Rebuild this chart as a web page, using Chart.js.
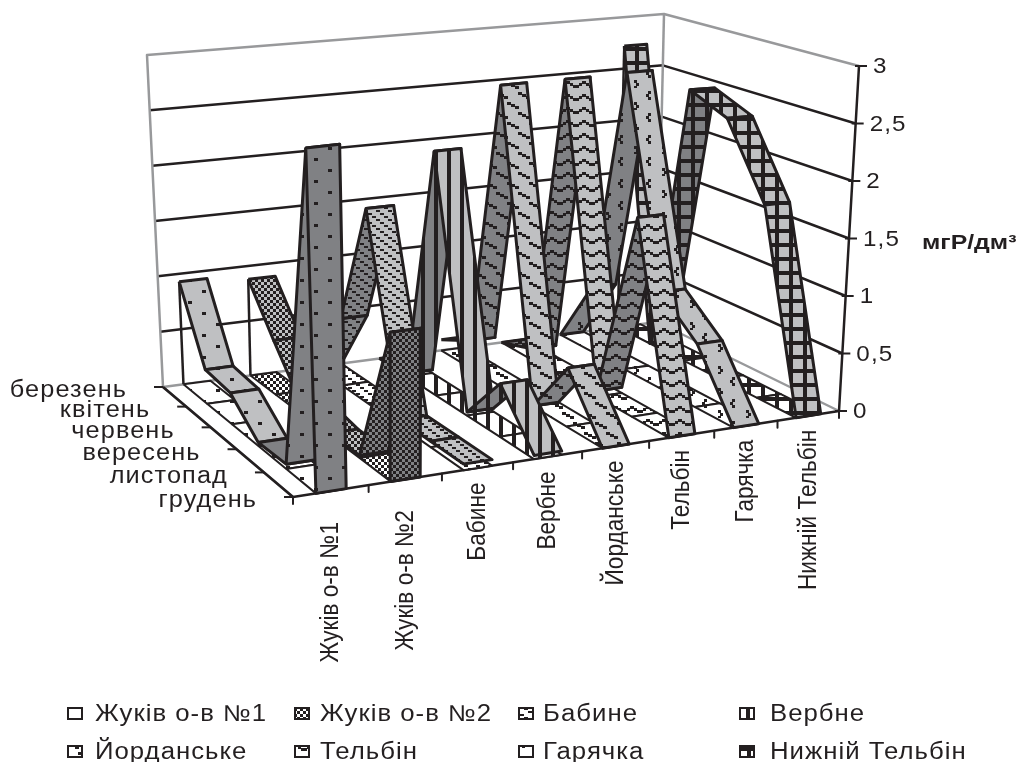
<!DOCTYPE html>
<html>
<head>
<meta charset="utf-8">
<title>Chart</title>
<script src="https://cdn.jsdelivr.net/npm/chart.js@4"></script>
<style>
  html, body { margin: 0; padding: 0; background: #fff; }
  canvas { display: block; }
</style>
</head>
<body>
<canvas id="chart" width="1023" height="762"></canvas>
<script>
// data
const months = ['березень', 'квітень', 'червень', 'вересень', 'листопад', 'грудень'];
const stations = ['Жуків о-в №1', 'Жуків о-в №2', 'Бабине', 'Вербне', 'Йорданське', 'Тельбін', 'Гарячка', 'Нижній Тельбін'];
const zhukiv1 = [0.93, 0.30, 0.27, 0.03, 0.04, 2.80];
const zhukiv2 = [0.88, 0.48, 0.08, 0.02, 0.02, 1.22];
const babyne = [0.00, 0.60, 1.72, 0.05, 0.05, 0.05];
const verbne = [0.00, 0.03, 2.16, 0.03, 0.45, 0.03];
const yordanske = [0.10, 0.25, 2.69, 0.00, 0.50, 0.00];
const telbin = [0.00, 0.10, 2.69, 0.05, 1.72, 0.00];
const hariachka = [0.00, 0.60, 2.70, 0.85, 0.55, 0.00];
const nyzhniiTelbin = [2.72, 0.00, 2.50, 2.35, 1.70, 0.00];
const valueTicks = ['0', '0,5', '1', '1,5', '2', '2,5', '3'];
const series = [zhukiv1, zhukiv2, babyne, verbne, yordanske, telbin, hariachka, nyzhniiTelbin];

// box corners of the 3d plot, in page pixels
const floorQuad = [[163, 387], [657, 322], [839, 411], [293, 497]];
const topQuad = [[147, 55], [664, 14], [859, 66], [279, 126]];
const maxValue = 3;
const ribbonFrom = 0.3, ribbonTo = 0.7;
const ink = '#231f20';
const LIGHT = '#bfc0c2', DARK = '#808184';

function quadMap(q) {
  const [p0, p1, p2, p3] = q;
  const dx1 = p1[0] - p2[0], dx2 = p3[0] - p2[0], sx = p0[0] - p1[0] + p2[0] - p3[0];
  const dy1 = p1[1] - p2[1], dy2 = p3[1] - p2[1], sy = p0[1] - p1[1] + p2[1] - p3[1];
  const d = dx1 * dy2 - dx2 * dy1;
  const g = (sx * dy2 - dx2 * sy) / d, h = (dx1 * sy - sx * dy1) / d;
  const a = p1[0] - p0[0] + g * p1[0], b = p3[0] - p0[0] + h * p3[0];
  const e = p1[1] - p0[1] + g * p1[1], f = p3[1] - p0[1] + h * p3[1];
  return (u, v) => {
    const w = g * u + h * v + 1;
    return [(a * u + b * v + p0[0]) / w, (e * u + f * v + p0[1]) / w];
  };
}
const floorMap = quadMap(floorQuad), topMap = quadMap(topQuad);

// u: station axis 0..8, v: month axis 0..5, val: value axis
function project(u, v, val) {
  const uu = u / stations.length, vv = v / (months.length - 1);
  const a = floorMap(uu, vv);
  // the top plane has stronger depth than the floor, except near the right wall
  const b = topMap(uu, Math.pow(vv, 1 + 0.12 * Math.min(1, (1 - uu) * 5)));
  const t = val / maxValue;
  return { x: a[0] + (b[0] - a[0]) * t, y: a[1] + (b[1] - a[1]) * t };
}

// hatch patterns, one per station
function tile(w, h, bg, draw) {
  const c = document.createElement('canvas');
  c.width = w; c.height = h;
  const g = c.getContext('2d');
  g.fillStyle = bg;
  g.fillRect(0, 0, w, h);
  g.fillStyle = ink;
  draw((x, y, bw, bh) => g.fillRect(x, y, bw, bh));
  return g.createPattern(c, 'repeat');
}
const hatches = [
  [28, 22, r => { r(6, 4, 4, 3); r(20, 15, 4, 3); }],
  [6, 6, r => { r(0, 0, 3, 3); r(3, 3, 3, 3); }],
  [12, 9, r => { r(0, 0, 4, 2); r(4, 3, 4, 2); r(8, 6, 4, 2); }],
  [13, 14, r => { r(5, 0, 4, 14); }],
  [22, 20, r => { r(1, 2, 4, 3); r(5, 4, 4, 3); r(9, 6, 4, 3); r(12, 12, 4, 3); r(16, 14, 4, 3); r(20, 16, 2, 3); r(0, 16, 2, 3); }],
  [16, 13, r => { r(0, 7, 3, 3); r(3, 5, 3, 3); r(6, 3, 4, 3); r(10, 5, 3, 3); r(13, 7, 3, 3); }],
  [28, 22, r => { r(4, 3, 3, 3); r(2, 6, 3, 3); r(4, 9, 3, 3); r(18, 14, 3, 3); r(20, 17, 3, 3); r(18, 20, 3, 2); }],
  [14, 14, r => { r(5, 0, 4, 14); r(0, 5, 14, 4); }]
];

const datasets = [];
let drawOrder = 100000;

function addShape(points, fill, width, color) {
  datasets.push({
    data: points,
    polyFill: fill || null,
    showLine: true,
    tension: 0,
    pointRadius: 0,
    borderColor: color || ink,
    borderWidth: width || 2.5,
    borderJoinStyle: 'round',
    clip: false,
    order: drawOrder--
  });
}
const closed = pts => pts.concat([pts[0]]);

// back wall, side wall, floor edges and gridlines
const lastU = stations.length, lastV = months.length - 1;
valueTicks.forEach((t, i) => {
  const val = i * 0.5;
  if (i === 0 || val === maxValue) return;
  addShape([project(0, 0, val), project(lastU, 0, val), project(lastU, lastV, val)]);
});
addShape([project(0, lastV, 0), project(0, 0, 0), project(0, 0, maxValue), project(lastU, 0, maxValue), project(lastU, lastV, maxValue)], null, 2.5, '#98999b');
addShape([project(lastU, 0, maxValue), project(lastU, 0, 0)], null, 2.5, '#98999b');
addShape([project(0, 0, 0), project(lastU, 0, 0), project(lastU, lastV, 0)], null, 2.5, '#98999b');
addShape([project(0, 0, 0), project(0, lastV, 0), project(lastU, lastV, 0), project(lastU, lastV, maxValue)]);

// ribbons, far one first
for (let s = series.length - 1; s >= 0; s--) {
  const vals = series[s];
  const [w, h, draw] = hatches[s];
  const white = tile(w, h, '#ffffff', draw);
  const light = tile(w, h, LIGHT, draw);
  const dark = tile(w, h, DARK, draw);
  const u0 = s + ribbonFrom, u1 = s + ribbonTo;
  for (let k = 0; k < lastV; k++) {
    addShape(closed([project(u0, k, 0), project(u1, k, 0), project(u1, k + 1, 0), project(u0, k + 1, 0)]), white, 2);
  }
  if (vals[0] > 0.1) addShape([project(u0, 0, vals[0]), project(u0, 0, 0)]);
  for (let k = 0; k < lastV; k++) {
    const fill = vals[k + 1] > vals[k] ? dark : light;
    addShape(closed([project(u0, k, vals[k]), project(u1, k, vals[k]), project(u1, k + 1, vals[k + 1]), project(u0, k + 1, vals[k + 1])]), fill, 3);
  }
  if (vals[lastV] > 0.1) {
    addShape(closed([project(u0, lastV, vals[lastV]), project(u1, lastV, vals[lastV]), project(u1, lastV, 0), project(u0, lastV, 0)]), dark, 3);
  }
}

// tick marks
for (let i = 0; i <= stations.length; i++) {
  const p = project(i, lastV, 0);
  addShape([p, { x: p.x, y: p.y + 7 }], null, 2);
}
months.forEach((m, i) => {
  const p = project(0, i, 0);
  addShape([p, { x: p.x - 9, y: p.y }], null, 2);
});
valueTicks.forEach((t, i) => {
  const p = project(lastU, lastV, i * 0.5);
  addShape([{ x: p.x - 4, y: p.y }, { x: p.x + 8, y: p.y }], null, 2);
});

const polyFillPlugin = {
  id: 'polyFill',
  beforeDatasetDraw(chart, args) {
    const ds = chart.data.datasets[args.index];
    if (!ds.polyFill) return;
    const pts = args.meta.data;
    const ctx = chart.ctx;
    ctx.save();
    ctx.beginPath();
    pts.forEach((p, i) => i ? ctx.lineTo(p.x, p.y) : ctx.moveTo(p.x, p.y));
    ctx.closePath();
    ctx.fillStyle = ds.polyFill;
    ctx.fill();
    ctx.restore();
  }
};

const legendSwatchX = [68, 295, 519, 740];
const legendTextX = [95, 320, 543, 770];
const legendRows = [713, 751];

// the original text is wider than the font, so stretch it sideways
function wideText(ctx, text, x, y, stretch, spacing) {
  ctx.save();
  ctx.translate(x, y);
  ctx.scale(stretch, 1);
  ctx.letterSpacing = spacing;
  ctx.fillText(text, 0, 0);
  ctx.restore();
}

const textPlugin = {
  id: 'chartText',
  afterDraw(chart) {
    const ctx = chart.ctx;
    ctx.save();
    ctx.fillStyle = ink;
    ctx.textBaseline = 'middle';

    // value axis
    ctx.font = '22px "Liberation Sans"';
    ctx.textAlign = 'left';
    valueTicks.forEach((t, i) => {
      const p = project(lastU, lastV, i * 0.5);
      wideText(ctx, t, p.x + 14, p.y + 1, 1.1, '1px');
    });
    ctx.font = 'bold 21px "Liberation Sans"';
    wideText(ctx, 'мгР/дм³', 922, 243, 1.18, '0px');

    // month axis
    ctx.font = '23px "Liberation Sans"';
    ctx.textAlign = 'right';
    months.forEach((m, i) => {
      const p = project(0, i, 0);
      wideText(ctx, m, p.x - 36, p.y + 4, 1.1, '1px');
    });

    // station axis, squeezed along the text
    ctx.font = '26px "Liberation Sans"';
    stations.forEach((name, i) => {
      const p = project(i, lastV, 0);
      ctx.save();
      ctx.translate(p.x + 38 - i, p.y + (i < 2 ? 25 : 9));
      ctx.rotate(-Math.PI / 2);
      ctx.scale(0.87, 1);
      ctx.textAlign = 'right';
      ctx.fillText(name, 0, 0);
      ctx.restore();
    });

    // legend
    stations.forEach((name, i) => {
      const x = legendSwatchX[i % 4], y = legendRows[Math.floor(i / 4)];
      const [w, h, draw] = hatches[i];
      ctx.fillStyle = tile(w, h, '#ffffff', draw);
      ctx.fillRect(x, y - 5, 14, 11);
      ctx.strokeStyle = ink;
      ctx.lineWidth = 2;
      ctx.strokeRect(x, y - 5, 14, 11);
      ctx.fillStyle = ink;
      ctx.font = '23px "Liberation Sans"';
      ctx.textAlign = 'left';
      wideText(ctx, name, legendTextX[i % 4], y + 1.5, 1.12, '0.9px');
    });
    ctx.restore();
  }
};

new Chart(document.getElementById('chart'), {
  type: 'scatter',
  data: { datasets },
  plugins: [polyFillPlugin, textPlugin],
  options: {
    responsive: false,
    animation: false,
    devicePixelRatio: 1,
    layout: { padding: 0 },
    plugins: { legend: { display: false }, tooltip: { enabled: false } },
    scales: {
      x: { type: 'linear', min: 0, max: 1023, display: false },
      y: { type: 'linear', min: 0, max: 762, reverse: true, display: false }
    }
  }
});
</script>
</body>
</html>
